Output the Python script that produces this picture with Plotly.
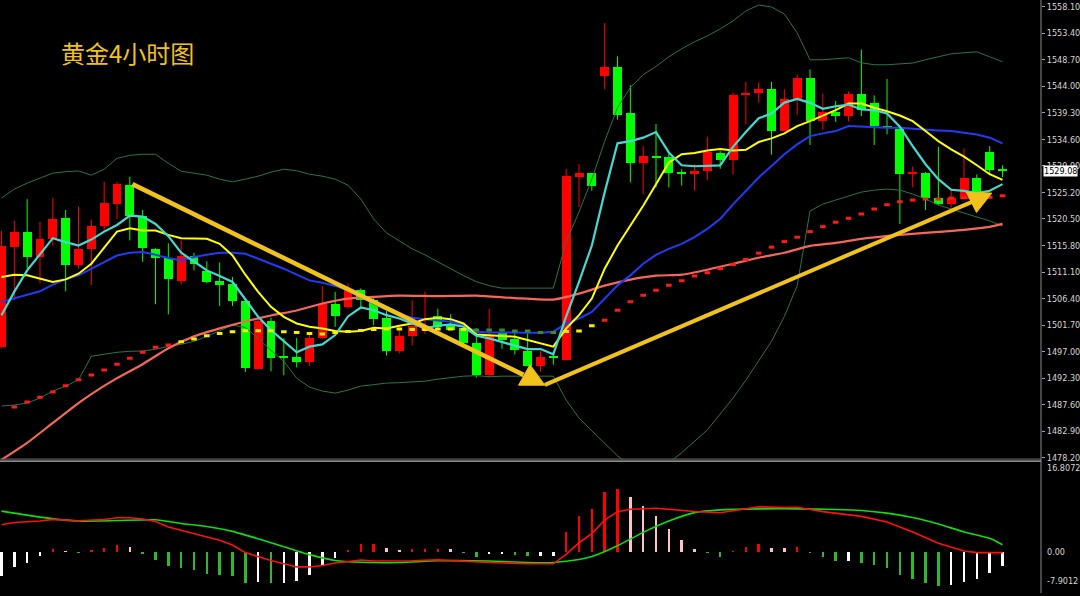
import plotly.graph_objects as go

# ---------------- data ----------------
opens = [1497.9, 1515.6, 1518.2, 1513.8, 1516.9, 1520.6, 1512.4, 1515.1, 1519.2, 1523.2,
         1526.5, 1521.1, 1515.2, 1513.5, 1509.6, 1513.9, 1511.2, 1509.5, 1508.9, 1505.9,
         1493.9, 1502.4, 1496.1, 1496.0, 1495.1, 1499.4, 1505.5, 1504.9, 1508.0, 1506.1,
         1503.0, 1497.1, 1499.7, 1500.9, 1503.4, 1501.7, 1501.2, 1498.5, 1492.8, 1500.5,
         1499.2, 1497.1, 1494.5, 1496.2, 1495.5, 1528.0, 1528.6, 1545.9, 1547.4, 1539.2,
         1530.4, 1531.6, 1531.4, 1528.7, 1528.4, 1529.0, 1532.1, 1531.0, 1542.5, 1542.8,
         1543.5, 1536.1, 1541.7, 1545.5, 1537.8, 1539.4, 1538.7, 1542.7, 1541.0, 1536.9,
         1536.5, 1528.6, 1528.7, 1524.3, 1523.2, 1524.0, 1527.7, 1532.4, 1529.1]
highs = [1518.4, 1520.2, 1524.0, 1520.0, 1524.2, 1522.1, 1522.7, 1520.4, 1527.1, 1527.1,
         1528.0, 1522.1, 1515.3, 1516.2, 1516.7, 1514.5, 1513.0, 1512.8, 1510.2, 1506.4,
         1503.0, 1503.0, 1499.4, 1499.4, 1500.5, 1508.6, 1507.6, 1509.1, 1508.2, 1506.7,
         1504.3, 1501.3, 1506.1, 1507.6, 1504.6, 1503.6, 1501.7, 1501.1, 1504.6, 1501.0,
         1500.8, 1500.8, 1497.1, 1496.9, 1529.4, 1530.2, 1528.6, 1555.2, 1549.3, 1544.2,
         1533.4, 1537.3, 1532.3, 1529.3, 1530.2, 1535.1, 1532.5, 1542.9, 1544.8, 1544.7,
         1544.8, 1543.5, 1546.1, 1547.0, 1542.7, 1541.4, 1543.1, 1550.5, 1542.4, 1545.3,
         1537.0, 1529.8, 1528.8, 1533.3, 1525.9, 1533.0, 1528.4, 1533.4, 1530.0]
lows = [1497.6, 1506.1, 1511.7, 1509.1, 1515.8, 1507.7, 1511.7, 1508.8, 1518.4, 1520.5,
        1516.7, 1512.9, 1505.4, 1503.6, 1508.9, 1511.4, 1509.1, 1505.1, 1505.1, 1493.4,
        1493.9, 1493.5, 1492.8, 1494.2, 1494.5, 1499.2, 1501.4, 1504.6, 1504.9, 1501.7,
        1496.3, 1496.7, 1498.1, 1500.1, 1501.1, 1500.8, 1497.9, 1492.4, 1492.4, 1497.5,
        1496.5, 1494.4, 1493.4, 1494.7, 1495.4, 1522.6, 1525.5, 1543.5, 1538.1, 1527.0,
        1524.9, 1526.1, 1526.1, 1526.4, 1525.5, 1527.4, 1529.4, 1528.4, 1537.3, 1541.1,
        1531.9, 1536.0, 1539.0, 1533.6, 1536.3, 1537.7, 1537.8, 1538.7, 1533.6, 1535.5,
        1519.6, 1526.1, 1522.1, 1522.9, 1522.6, 1523.9, 1524.0, 1528.4, 1527.9]
closes = [1515.7, 1518.2, 1513.8, 1517.0, 1520.5, 1512.4, 1515.1, 1519.2, 1523.3, 1526.7,
          1521.1, 1515.3, 1513.6, 1509.8, 1513.9, 1512.6, 1509.4, 1508.8, 1505.9, 1494.1,
          1502.4, 1495.8, 1496.0, 1495.1, 1499.4, 1505.5, 1503.4, 1507.9, 1506.1, 1502.8,
          1497.1, 1499.8, 1501.6, 1501.3, 1501.4, 1500.8, 1498.5, 1492.9, 1499.8, 1499.1,
          1497.3, 1494.5, 1496.1, 1495.8, 1528.1, 1528.6, 1526.4, 1547.4, 1539.0, 1530.5,
          1531.6, 1531.3, 1528.6, 1528.6, 1529.0, 1532.3, 1531.0, 1542.4, 1542.9, 1543.6,
          1536.1, 1541.7, 1545.5, 1537.8, 1539.4, 1538.7, 1542.7, 1539.8, 1536.9, 1536.8,
          1528.4, 1528.8, 1524.3, 1523.2, 1524.2, 1527.7, 1524.2, 1529.2, 1529.08]

ma_fast = [1503.46, 1507.63, 1511.39, 1514.15, 1517.10, 1516.39, 1515.79, 1516.85, 1518.26, 1519.44,
           1521.08, 1520.91, 1519.62, 1517.45, 1514.51, 1512.97, 1511.39, 1510.40, 1509.34, 1506.28,
           1503.17, 1500.81, 1498.87, 1496.88, 1497.88, 1498.29, 1499.93, 1503.23, 1504.81, 1504.34,
           1503.46, 1502.87, 1501.99, 1501.11, 1501.59, 1501.82, 1501.41, 1499.82, 1499.35, 1498.77,
           1498.06, 1497.46, 1497.46, 1496.53, 1503.23, 1509.34, 1515.79, 1525.21, 1533.90, 1534.30,
           1534.90, 1535.89, 1532.26, 1530.02, 1529.84, 1529.90, 1529.98, 1533.28, 1535.92, 1538.34,
           1539.18, 1541.12, 1541.78, 1541.07, 1540.01, 1540.47, 1540.77, 1539.89, 1539.77, 1539.18,
           1536.84, 1533.42, 1530.20, 1527.55, 1525.67, 1525.49, 1525.08, 1525.49, 1526.67]
ma_mid = [1510.22, 1510.63, 1510.51, 1509.92, 1509.34, 1509.80, 1510.81, 1512.57, 1515.34, 1518.26,
          1518.86, 1518.44, 1518.44, 1517.68, 1517.10, 1517.10, 1516.98, 1516.09, 1514.03, 1510.63,
          1507.58, 1504.94, 1503.17, 1501.99, 1501.41, 1501.11, 1500.64, 1500.53, 1500.64, 1501.23,
          1501.11, 1501.59, 1501.99, 1502.75, 1503.00, 1502.75, 1501.99, 1500.05, 1499.93, 1499.82,
          1499.65, 1499.05, 1498.47, 1497.88, 1501.11, 1503.46, 1506.40, 1511.69, 1515.79, 1519.32,
          1522.85, 1526.67, 1530.49, 1531.96, 1532.17, 1532.61, 1532.91, 1532.63, 1532.75, 1534.13,
          1534.78, 1535.66, 1536.95, 1537.83, 1538.83, 1539.77, 1540.95, 1540.95, 1540.19, 1539.59,
          1538.83, 1537.83, 1536.07, 1534.30, 1532.84, 1531.55, 1530.02, 1528.43, 1527.43]
ma_slow = [1505.82, 1506.40, 1506.98, 1507.69, 1508.87, 1509.80, 1510.51, 1511.69, 1512.87, 1514.03,
           1514.51, 1514.63, 1514.15, 1513.57, 1513.15, 1513.75, 1514.15, 1514.51, 1514.51, 1514.33,
           1513.45, 1512.57, 1511.69, 1510.63, 1509.62, 1509.22, 1508.64, 1507.86, 1506.70, 1505.52,
           1504.34, 1503.58, 1503.00, 1502.75, 1502.57, 1502.29, 1501.69, 1500.53, 1500.41, 1500.35,
           1500.35, 1500.35, 1500.35, 1500.53, 1501.99, 1502.87, 1504.05, 1506.40, 1508.74, 1510.51,
           1512.57, 1514.15, 1515.21, 1516.09, 1517.28, 1518.74, 1520.50, 1523.09, 1525.49, 1527.85,
           1529.90, 1531.96, 1533.72, 1535.18, 1535.66, 1536.07, 1536.95, 1536.84, 1536.66, 1536.66,
           1536.66, 1536.49, 1536.24, 1536.19, 1536.07, 1535.78, 1535.48, 1534.90, 1533.90]
boll_upper = [1524.20, 1525.79, 1526.85, 1527.73, 1528.61, 1528.87, 1529.01, 1528.26, 1529.31, 1531.25,
              1531.78, 1531.96, 1531.96, 1530.37, 1528.96, 1528.61, 1528.26, 1527.55, 1527.08, 1527.55,
              1528.08, 1528.79, 1529.31, 1529.05, 1528.43, 1528.08, 1527.55, 1526.49, 1524.03, 1520.50,
              1518.03, 1516.62, 1515.21, 1514.15, 1512.92, 1511.69, 1510.45, 1509.40, 1508.69, 1508.25,
              1508.25, 1508.25, 1508.25, 1508.25, 1516.45, 1521.73, 1527.55, 1534.25, 1540.24, 1543.77,
              1546.06, 1547.52, 1549.23, 1550.64, 1551.88, 1552.93, 1554.17, 1555.58, 1557.34, 1558.40,
              1558.05, 1556.81, 1553.46, 1548.70, 1548.70, 1548.88, 1549.06, 1548.17, 1547.82, 1547.82,
              1548.00, 1548.12, 1548.70, 1549.23, 1549.76, 1549.94, 1550.11, 1549.23, 1548.35]
boll_lower = [1487.36, 1487.54, 1487.89, 1488.77, 1490.01, 1490.89, 1492.00, 1496.18, 1496.53, 1496.88,
              1497.06, 1497.11, 1497.41, 1497.94, 1498.29, 1498.82, 1499.70, 1500.76, 1501.69, 1501.29,
              1499.35, 1497.23, 1495.29, 1492.30, 1490.71, 1490.01, 1489.65, 1490.18, 1490.89, 1491.15,
              1491.42, 1491.50, 1491.59, 1491.77, 1492.12, 1492.38, 1492.65, 1492.74, 1492.56, 1492.65,
              1492.65, 1492.65, 1492.65, 1492.65, 1488.42, 1485.25, 1482.96, 1480.84, 1478.55, 1476.79,
              1475.73, 1476.08, 1477.31, 1479.08, 1481.02, 1483.13, 1485.95, 1488.77, 1491.94, 1495.29,
              1498.82, 1503.23, 1508.69, 1521.91, 1523.14, 1523.85, 1524.55, 1525.26, 1525.61, 1525.79,
              1525.61, 1524.91, 1524.03, 1522.97, 1522.26, 1521.56, 1520.85, 1520.15, 1519.27]
ma_long_idx = [0, 2, 4, 6, 7, 9, 11, 13, 15, 17, 19, 21, 23, 25, 27, 29, 31, 34, 37, 40, 43, 45,
               47, 49, 51, 53, 55, 57, 59, 61, 63, 65, 67, 70, 73, 75, 77, 78]
ma_long = [1477.84, 1480.84, 1484.37, 1487.89, 1489.48, 1492.30, 1494.77, 1497.59, 1499.70, 1501.11,
           1502.34, 1503.40, 1504.28, 1505.52, 1506.40, 1506.70, 1506.93, 1506.84, 1506.93, 1506.49,
           1506.22, 1507.28, 1508.69, 1509.75, 1510.45, 1510.63, 1511.51, 1512.57, 1513.63, 1514.51,
           1515.74, 1516.27, 1516.98, 1517.68, 1518.21, 1518.56, 1519.09, 1519.62]
dots_idx = list(range(1, 79))
dots = [1487.19, 1488.07, 1488.90, 1489.83, 1490.94, 1492.00, 1492.88, 1493.76, 1494.77, 1495.82,
        1496.88, 1497.76, 1498.17, 1498.77, 1499.23, 1499.82, 1500.23, 1500.53, 1500.70, 1500.70,
        1500.70, 1500.53, 1500.41, 1500.23, 1500.11, 1500.41, 1500.58, 1500.76, 1500.93, 1500.99,
        1500.99, 1500.93, 1500.93, 1500.99, 1500.99, 1500.93, 1500.81, 1500.81, 1500.81, 1500.64,
        1500.64, 1500.41, 1500.41, 1500.58, 1500.64, 1501.59, 1502.57, 1504.34, 1505.82, 1506.98,
        1507.86, 1508.74, 1509.57, 1510.40, 1510.98, 1511.69, 1512.44, 1513.33, 1514.45, 1515.51,
        1516.50, 1517.27, 1518.26, 1519.14, 1519.92, 1520.62, 1521.38, 1522.26, 1523.02, 1523.55,
        1523.85, 1524.03, 1524.03, 1524.20, 1524.29, 1524.29, 1524.33, 1524.61]

macd_hist = [-4.58, -2.96, -2.08, -0.82, 0.50, 0.18, -0.20, 0.35, 0.75, 1.32,
             0.88, -0.50, -1.64, -2.83, -3.14, -3.58, -4.21, -4.40, -4.72, -5.97,
             -5.72, -5.97, -5.90, -5.53, -4.47, -2.52, -1.26, 0.35, 1.38, 1.45,
             0.75, 0.38, 0.57, 0.57, 0.57, 0.50, -0.19, -0.94, -0.50, -0.38,
             -0.63, -0.82, -0.80, -0.75, 3.71, 6.73, 8.11, 11.32, 11.89, 10.50,
             8.81, 6.79, 4.40, 2.20, 0.57, -0.30, -0.94, 0.13, 0.94, 1.38,
             0.75, 0.72, 0.82, -0.30, -0.94, -1.76, -1.70, -2.08, -2.64, -3.14,
             -4.40, -5.16, -5.97, -6.48, -6.40, -5.72, -5.22, -4.09, -2.83]
macd_idx = [0, 1, 3, 4, 6, 8, 9, 10, 11, 12, 13, 15, 17, 18, 19, 21, 23, 24, 25, 26, 28, 29, 32,
            34, 36, 38, 41, 43, 44, 45, 46, 47, 48, 49, 51, 54, 56, 57, 59, 61, 62, 64, 66, 67,
            69, 70, 71, 73, 75, 76, 78]
macd_line = [5.15, 5.57, 5.85, 6.17, 5.91, 6.13, 6.47, 6.47, 6.23, 5.75, 4.72, 3.40, 2.17, 1.26,
             -0.19, -1.70, -2.92, -2.92, -2.64, -2.17, -1.60, -1.79, -1.75, -1.57, -1.89, -2.08,
             -2.32, -2.32, -0.51, 1.70, 3.45, 6.04, 7.64, 8.11, 8.30, 7.68, 7.42, 7.83, 8.58,
             8.43, 8.49, 7.64, 7.08, 6.74, 5.66, 4.72, 3.77, 1.60, 0.13, -0.19, -0.19]
signal_idx = [0, 3, 6, 9, 12, 14, 16, 18, 20, 22, 24, 26, 28, 31, 34, 38, 41, 43, 45, 46, 48, 50,
              52, 54, 56, 59, 62, 65, 67, 69, 71, 73, 75, 77, 78]
signal_line = [7.74, 6.60, 5.85, 5.94, 6.08, 5.38, 4.81, 3.87, 2.45, 0.94, -0.57, -1.70, -2.04,
               -2.08, -1.75, -1.79, -2.08, -2.08, -1.51, -0.94, 1.13, 3.68, 5.85, 7.45, 7.98,
               8.17, 8.17, 8.06, 7.87, 7.36, 6.51, 5.28, 3.77, 2.55, 1.32]

price_ticks = [1478.20, 1482.90, 1487.60, 1492.30, 1497.00, 1501.70, 1506.40, 1511.10, 1515.80,
               1520.50, 1525.20, 1529.90, 1534.60, 1539.30, 1544.00, 1548.70, 1553.40, 1558.10]
last_price = 1529.08
macd_max, macd_min = 16.8072, -7.9012

# trend arrows drawn on the chart: (candle index, price)
down_trend = [(10.20, 1526.67), (40.67, 1492.88)]
down_head = [(40.29, 1491.06), (41.18, 1494.68), (42.34, 1491.06)]
up_trend = [(42.34, 1491.11), (75.58, 1523.50)]
up_head = [(75.19, 1525.21), (77.17, 1525.08), (75.97, 1521.65)]

title_text = "黄金4小时图"

# ---------------- styling ----------------
UP, DOWN = "#FF0000", "#00FF00"
GOLD = "#F2C21C"
n = len(opens)
idx = list(range(n))

fig = go.Figure()

# wicks
for col, cond in ((UP, lambda o, c: c >= o), (DOWN, lambda o, c: c < o)):
    wx, wy = [], []
    for i in idx:
        if cond(opens[i], closes[i]):
            wx += [i, i, None]
            wy += [lows[i], highs[i], None]
    fig.add_trace(go.Scatter(x=wx, y=wy, mode="lines", line=dict(color=col, width=1),
                             hoverinfo="skip", showlegend=False))

# bodies
for col, cond in ((UP, lambda o, c: c >= o), (DOWN, lambda o, c: c < o)):
    bx, by, bb = [], [], []
    for i in idx:
        o, c = opens[i], closes[i]
        if cond(o, c):
            h = abs(c - o)
            lo = min(o, c)
            if h < 0.35:
                lo = (o + c) / 2 - 0.175
                h = 0.35
            bx.append(i); by.append(h); bb.append(lo)
    fig.add_trace(go.Bar(x=bx, y=by, base=bb, width=0.7, marker=dict(color=col, line=dict(width=0)),
                         hoverinfo="skip", showlegend=False))

# bands and averages
BAND = "#2B7445"
fig.add_trace(go.Scatter(x=idx, y=boll_upper, mode="lines", line=dict(color=BAND, width=1), showlegend=False))
fig.add_trace(go.Scatter(x=idx, y=boll_lower, mode="lines", line=dict(color=BAND, width=1), showlegend=False))
fig.add_trace(go.Scatter(x=ma_long_idx, y=ma_long, mode="lines", line=dict(color="#F4675A", width=2.2, shape="spline", smoothing=0.6), showlegend=False))
fig.add_trace(go.Scatter(x=idx, y=ma_slow, mode="lines", line=dict(color="#1F3BF5", width=2), showlegend=False))
fig.add_trace(go.Scatter(x=idx, y=ma_mid, mode="lines", line=dict(color="#FFFF00", width=2), showlegend=False))
fig.add_trace(go.Scatter(x=idx, y=ma_fast, mode="lines", line=dict(color="#44D8D0", width=2.2), showlegend=False))

# dotted indicator
def dot_color(i):
    if 14 <= i <= 36 or 44 <= i <= 46:
        return "#F5F000"
    if 37 <= i <= 43:
        return "#3C8A2E"
    return "#FF1A1A"
fig.add_trace(go.Scatter(x=dots_idx, y=dots, mode="markers",
                         marker=dict(symbol="line-ew", size=4,
                                     line=dict(width=3, color=[dot_color(i) for i in dots_idx])),
                         showlegend=False))

# MACD histogram
hcols = []
for i, v in enumerate(macd_hist):
    prev = macd_hist[i - 1] if i > 0 else v - 1
    if v >= 0:
        hcols.append("#FF0000" if v >= prev else "#FFC0CB")
    else:
        hcols.append("#2DB82D" if v < prev else "#FFFFFF")
fig.add_trace(go.Bar(x=idx, y=macd_hist, width=0.2, marker=dict(color=hcols, line=dict(width=0)),
                     yaxis="y2", showlegend=False))
fig.add_trace(go.Scatter(x=signal_idx, y=signal_line, mode="lines", yaxis="y2",
                         line=dict(color="#10DD10", width=1.6, shape="spline", smoothing=0.5), showlegend=False))
fig.add_trace(go.Scatter(x=macd_idx, y=macd_line, mode="lines", yaxis="y2",
                         line=dict(color="#FF1010", width=1.6), showlegend=False))

# ---------------- layout ----------------
W, H = 1080, 596
plot_w = 1048
main_bottom = 462
macd_top = 466
x_first = 1.5
spacing = 12.92
x_lo = (0 - x_first) / spacing
x_hi = (plot_w - x_first) / spacing
px_per_price = 5.6735
y_top = last_price + (171.4 - 0) / px_per_price
y_bot = y_top - main_bottom / px_per_price

tick_font = dict(family="Liberation Sans Narrow, DejaVu Sans Condensed, Liberation Sans, sans-serif",
                 size=9, color="#D6D6D6")

fig.update_layout(
    width=W, height=H, autosize=False,
    margin=dict(l=0, r=W - plot_w, t=0, b=0),
    paper_bgcolor="#000000", plot_bgcolor="#000000",
    barmode="overlay", bargap=0,
    xaxis=dict(range=[x_lo, x_hi], showgrid=False, zeroline=False, showticklabels=False,
               ticks="", showline=False, fixedrange=True),
    yaxis=dict(domain=[1 - main_bottom / H, 1], range=[y_bot, y_top], side="right",
               showgrid=False, zeroline=False, showline=False,
               tickvals=price_ticks, ticktext=[f"{v:.2f}" for v in price_ticks],
               ticks="outside", ticklen=3, tickcolor="#A0A0A0", tickfont=tick_font),
    yaxis2=dict(domain=[0, 1 - macd_top / H], range=[macd_min, macd_max], anchor="x",
                side="right", showgrid=False, zeroline=False, showline=False,
                showticklabels=False, ticks=""),
    showlegend=False,
)

shapes = []
# trend arrows
shapes.append(dict(type="line", xref="x", yref="y", x0=down_trend[0][0], y0=down_trend[0][1],
                   x1=down_trend[1][0], y1=down_trend[1][1], line=dict(color=GOLD, width=4.5)))
shapes.append(dict(type="line", xref="x", yref="y", x0=up_trend[0][0], y0=up_trend[0][1],
                   x1=up_trend[1][0], y1=up_trend[1][1], line=dict(color=GOLD, width=4)))
for head in (down_head, up_head):
    path = "M " + " L ".join(f"{a},{b}" for a, b in head) + " Z"
    shapes.append(dict(type="path", xref="x", yref="y", path=path,
                       fillcolor=GOLD, line=dict(color=GOLD, width=1)))
# separators / axis line
shapes.append(dict(type="line", xref="paper", yref="paper", x0=0, x1=1,
                   y0=1 - 461.5 / H, y1=1 - 461.5 / H, line=dict(color="#5A5A5A", width=1.2)))
shapes.append(dict(type="line", xref="paper", yref="paper", x0=0, x1=1,
                   y0=1 - 463.5 / H, y1=1 - 463.5 / H, line=dict(color="#B8B8B8", width=1.2)))
shapes.append(dict(type="line", xref="paper", yref="paper", x0=1, x1=1, y0=0, y1=1,
                   line=dict(color="#8C8C8C", width=1)))
fig.update_layout(shapes=shapes)

ann = []
ann.append(dict(text=title_text, xref="paper", yref="paper", x=59 / plot_w, y=1 - 53 / H,
                xanchor="left", yanchor="middle", showarrow=False,
                font=dict(family="Noto Sans CJK SC", size=24, color="#F2C21C")))
# current price box
ann.append(dict(text=f"{last_price:.2f}", xref="paper", yref="y", x=1, y=last_price,
                xanchor="left", yanchor="middle", xshift=2, showarrow=False,
                bgcolor="#FFFFFF", borderpad=0,
                font=dict(family=tick_font["family"], size=9, color="#000000")))
# MACD scale labels
for txt, ypx in ((f"{macd_max:.4f}", 470), ("0.00", 555), (f"{macd_min:.4f}", 583.5)):
    ann.append(dict(text=txt, xref="paper", yref="paper", x=1, y=1 - ypx / H,
                    xanchor="left", yanchor="middle", xshift=4, showarrow=False,
                    font=tick_font))
fig.update_layout(annotations=ann)

fig.write_html("out.html", config={"displayModeBar": False, "staticPlot": True},
               post_script="document.body.style.margin='0px';document.body.style.overflow='hidden';")
